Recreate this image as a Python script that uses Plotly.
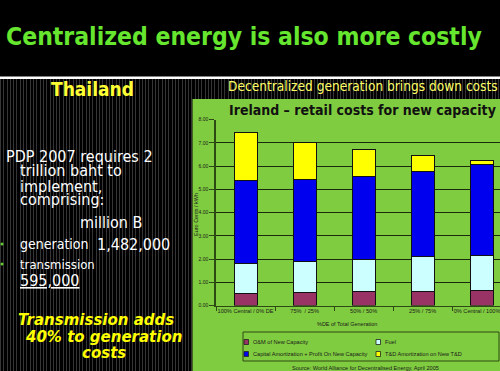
import plotly.graph_objects as go

# ---------------- data ----------------
categories = ["100% Central / 0% DE", "75%  / 25%", "50% / 50%", "25% / 75%", "0% Central / 100% DE"]
series_names = ["O&M of New Capacity", "Fuel",
                "Capital Amortization + Profit On New Capacity", "T&D Amortization on New T&D"]
om_values = [0.51, 0.56, 0.60, 0.61, 0.64]
fuel_values = [1.30, 1.35, 1.40, 1.48, 1.51]
capital_values = [3.55, 3.50, 3.56, 3.69, 3.92]
td_values = [2.06, 1.61, 1.14, 0.67, 0.16]
y_tick_values = [0, 1, 2, 3, 4, 5, 6, 7, 8]

series_values = [om_values, fuel_values, capital_values, td_values]
series_colors = ["#993366", "#ccffff", "#0000ee", "#ffff00"]

W, H = 500, 371


def px(x):
    return x / W


def py(y):
    return 1 - y / H


fig = go.Figure()
for name, vals, col in zip(series_names, series_values, series_colors):
    fig.add_trace(go.Bar(
        x=categories, y=vals, name=name, width=0.39,
        marker=dict(color=col, line=dict(color="#111111", width=1)),
        showlegend=False,
    ))

shapes = []
# striped dark background
i = 0
while True:
    xs = round(i * 3.3)
    if xs > W:
        break
    shapes.append(dict(type="line", xref="paper", yref="paper", layer="below",
                       x0=px(xs + 0.5), x1=px(xs + 0.5), y0=py(79), y1=0,
                       line=dict(color="#353535", width=1)))
    i += 1
# white separator line
shapes.append(dict(type="rect", xref="paper", yref="paper", layer="below",
                   x0=0, x1=1, y0=py(79), y1=py(76.5), fillcolor="#ffffff",
                   line=dict(width=0)))
# green chart panel
shapes.append(dict(type="rect", xref="paper", yref="paper", layer="below",
                   x0=px(192.5), x1=1.01, y0=-0.01, y1=py(99), fillcolor="#80cc40",
                   line=dict(width=0)))
# legend box
shapes.append(dict(type="rect", xref="paper", yref="paper", layer="above",
                   x0=px(243), x1=px(499), y0=py(361), y1=py(332),
                   line=dict(color="#2e4a14", width=1)))
legend_pos = [(244, 342), (376, 342), (244, 354), (376, 354)]
annotations = []
for (lx, ly), name, col in zip(legend_pos, series_names, series_colors):
    shapes.append(dict(type="rect", xref="paper", yref="paper", layer="above",
                       x0=px(lx), x1=px(lx + 4.5), y0=py(ly + 2.5), y1=py(ly - 2.5),
                       fillcolor=col, line=dict(color="#222222", width=0.8)))
    annotations.append(dict(text=name, xref="paper", yref="paper", x=px(lx + 6.5), y=py(ly),
                            xanchor="left", yanchor="middle", showarrow=False,
                            font=dict(family="Liberation Sans", size=5.6, color="#1a1a1a")))
# bullets
for by in (244, 264):
    shapes.append(dict(type="circle", xref="paper", yref="paper", layer="above",
                       x0=px(0.5), x1=px(3.5), y0=py(by + 1.5), y1=py(by - 1.5),
                       fillcolor="#66cc33", line=dict(width=0)))

BODY = "DejaVu Sans Condensed, DejaVu Sans"


def ann(text, x, y, size, color, family=BODY, xanchor="left", bold=False, italic=False, angle=0):
    if bold:
        text = "<b>" + text + "</b>"
    if italic:
        text = "<i>" + text + "</i>"
    annotations.append(dict(text=text, xref="paper", yref="paper", x=px(x), y=py(y),
                            xanchor=xanchor, yanchor="middle", showarrow=False,
                            textangle=angle,
                            font=dict(family=family, size=size, color=color)))


ann("Centralized energy is also more costly", 244, 37, 24.5, "#66e62e", xanchor="center", bold=True)
ann("Thailand", 92.5, 89, 19, "#ffff33", xanchor="center", bold=True)
ann("Decentralized generation brings down costs", 362.5, 86, 13.6, "#ffff66", xanchor="center")
ann("PDP 2007 requires 2", 4, 156, 16, "#ffffff")
ann("trillion baht to", 18, 171, 16, "#ffffff")
ann("implement,", 18, 186, 16, "#ffffff")
ann("comprising:", 18, 200, 16, "#ffffff")
ann("million B", 111, 222, 16, "#ffffff", xanchor="center")
ann("generation", 18, 244, 14, "#ffffff")
ann("1,482,000", 95, 244, 16, "#ffffff")
ann("transmission", 18, 264, 13, "#ffffff")
ann("<u>595,000</u>", 18, 280, 16, "#ffffff")
ann("Transmission adds", 95.5, 320, 15, "#ffff00", family="DejaVu Sans",
    xanchor="center", bold=True, italic=True)
ann("40% to generation", 103, 337, 15, "#ffff00", family="DejaVu Sans",
    xanchor="center", bold=True, italic=True)
ann("costs", 103.5, 353, 15, "#ffff00", family="DejaVu Sans",
    xanchor="center", bold=True, italic=True)

ann("Ireland \u2013 retail costs for new capacity", 362.5, 110, 14, "#111111", xanchor="center", bold=True)
ann("Euro Cents / kWh", 196, 215, 5.5, "#1a1a1a", family="Liberation Sans", xanchor="center", angle=-90)
ann("%DE of Total Generation", 347, 324, 5.5, "#1a1a1a", family="Liberation Sans", xanchor="center")
ann("Source: World Alliance for Decentralised Energy, April 2005", 365, 368, 5.6, "#1a1a1a",
    family="Liberation Sans", xanchor="center")

fig.update_layout(
    width=W, height=H,
    margin=dict(l=0, r=0, t=0, b=0, pad=0, autoexpand=False),
    paper_bgcolor="#000000",
    plot_bgcolor="rgba(0,0,0,0)",
    barmode="stack",
    showlegend=False,
    shapes=shapes,
    annotations=annotations,
    xaxis=dict(domain=[px(216), 1], range=[-0.5, 4.31], type="category",
               showline=True, linecolor="#2e4a14", linewidth=1,
               ticks="outside", ticklen=4, tickcolor="#2e4a14", tickson="boundaries",
               tickangle=0, automargin=False,
               tickfont=dict(family="Liberation Sans", size=5.6, color="#1a1a1a"),
               showgrid=False),
    yaxis=dict(domain=[py(305.5), py(119.5)], range=[0, 8], tickvals=y_tick_values,
               tickformat=".2f", showline=True, linecolor="#2e4a14", linewidth=1.5,
               ticks="outside", ticklen=5, tickcolor="#2e4a14", automargin=False,
               tickfont=dict(family="Liberation Sans", size=5, color="#1a1a1a"),
               showgrid=True, gridcolor="#1a2a0a", gridwidth=1, zeroline=False),
)

fig.write_html(
    "out.html",
    config={"displayModeBar": False},
    post_script=("document.documentElement.style.margin='0';"
                 "document.documentElement.style.overflow='hidden';"
                 "document.documentElement.style.background='#000000';"
                 "document.body.style.margin='0';document.body.style.overflow='hidden';"),
)
